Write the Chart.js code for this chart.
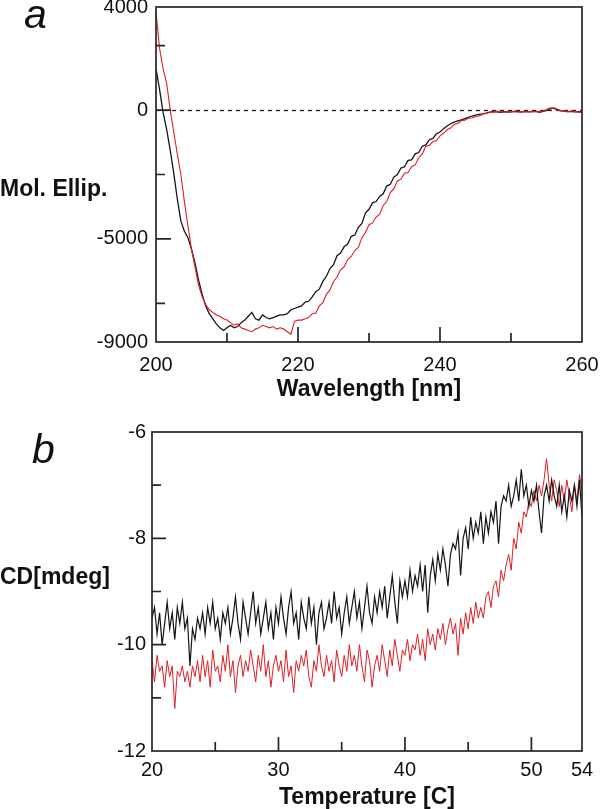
<!DOCTYPE html>
<html><head><meta charset="utf-8">
<script src="https://cdn.jsdelivr.net/npm/chart.js@4.4.0/dist/chart.umd.min.js"></script>
<style>
html,body{margin:0;padding:0;background:#fff;}
#wrap{position:relative;width:600px;height:809px;overflow:hidden;background:#fff;}
canvas{position:absolute;left:0;}
#ca{top:0;width:600px;height:405px;}
#cb{top:405px;width:600px;height:404px;}
</style></head><body>
<div id="wrap"><canvas id="ca" width="600" height="405"></canvas><canvas id="cb" width="600" height="404"></canvas></div>
<script>
// ---------- Panel a: CD spectra (Mol. Ellip. vs wavelength) ----------
const WL_START = 200, WL_STEP = 0.5;            // nm sampling
const A_BLACK = [
 1600, 800, -100, -750, -1550, -2450, -3450, -4300, -4700, -4950,
 -5400, -5950, -6600, -7150, -7600, -7900, -8100, -8300, -8450, -8550,
 -8450, -8350, -8450, -8400, -8250, -8150, -8000, -7850, -8100, -8150,
 -7950, -8050, -8100, -8050, -8000, -7950, -7950, -7900, -7750, -7700,
 -7650, -7600, -7450, -7420, -7250, -7050, -6950, -6650, -6450, -6150,
 -6000, -5650, -5550, -5300, -5200, -4900, -4850, -4550, -4400, -4000,
 -3850, -3600, -3550, -3350, -3250, -2950, -2880, -2600, -2500, -2250,
 -2200, -1950, -1930, -1700, -1650, -1400, -1350, -1150, -1100, -920,
 -850, -720, -620, -530, -470, -420, -380, -330, -280, -230,
 -200, -170, -150, -120, -80, -60, -70, -90, -60, -80,
 -70, -40, -60, -80, -50, -70, -60, -40, -90, -50,
 -20, 50, 80, 30, -20, -50, -60, -40, -70, -60,
 -80];
const A_RED = [
 3800, 2400, 1600, 1050, 0, -850, -1700, -2500, -3550, -4500,
 -5400, -6100, -6800, -7250, -7550, -7750, -7850, -7950, -8000, -8100,
 -8150, -8250, -8350, -8300, -8450, -8500, -8550, -8600, -8500, -8450,
 -8350, -8400, -8450, -8400, -8500, -8450, -8500, -8600, -8700, -8200,
 -8150, -8150, -8100, -8050, -7900, -7880, -7600, -7470, -7150, -6980,
 -6650, -6480, -6200, -6080, -5800, -5680, -5450, -5330, -4950, -4750,
 -4450, -4380, -4150, -4050, -3700, -3550, -3200, -3050, -2750, -2680,
 -2450, -2420, -2200, -2130, -1850, -1700, -1400, -1370, -1220, -1180,
 -1000, -900, -760, -700, -560, -520, -410, -390, -320, -310,
 -250, -230, -160, -120, -90, -80, -40, -60, -90, -50,
 -70, -60, -80, -50, -70, -60, -50, -70, -60, -40,
 20, 90, 60, 0, -30, -40, -60, -70, -50, -80,
 -70];
const A_X_LABELS = [200, 220, 240, 260];
const A_X_MAJOR = [220, 240];
const A_X_MINOR = [210, 230, 250];
const A_Y_LABELS = [-9000, -5000, 0, 4000];
const A_Y_MAJOR = [-5000, 0];
const A_Y_MINOR = [-7500, -2500, 2500];

// ---------- Panel b: thermal melt (CD vs temperature) ----------
const T_START = 20, T_STEP = 0.2;               // degC sampling
const B_BLACK = [
 -9.5, -9.3, -9.8, -9.4, -10.0, -9.6, -9.2, -9.7, -9.4, -9.9,
 -9.3, -9.6, -9.2, -9.7, -9.5, -10.4, -9.7, -9.9, -9.5, -9.7,
 -9.4, -9.8, -9.3, -9.6, -9.2, -9.7, -9.5, -9.9, -9.4, -9.6,
 -9.3, -9.8, -9.5, -9.1, -9.6, -9.9, -9.2, -9.5, -9.8, -9.4,
 -9.0, -9.6, -9.3, -9.8, -9.5, -9.2, -9.7, -9.4, -9.9, -9.3,
 -9.6, -9.1, -9.5, -9.8, -9.3, -9.0, -9.6, -9.4, -9.9, -9.2,
 -9.5, -9.7, -9.1, -9.6, -9.3, -10.0, -9.4, -9.2, -9.7, -9.5,
 -9.2, -9.6, -9.0, -9.5, -9.3, -9.8, -9.4, -9.1, -9.6, -9.3,
 -9.0, -9.5, -9.2, -9.7, -9.3, -8.9, -9.4, -9.6, -9.1, -9.4,
 -9.0, -9.3, -8.9, -9.5, -9.1, -8.7, -9.2, -9.6, -8.8, -9.1,
 -8.8, -9.1, -8.6, -9.0, -8.7, -8.9, -8.5, -9.0, -8.5, -9.4,
 -8.7, -8.4, -8.8, -8.3, -8.6, -8.2, -8.5, -8.9, -8.3, -8.1,
 -8.2, -7.9, -8.7, -8.0, -7.8, -8.2, -7.6, -8.0, -7.7, -7.9,
 -7.5, -8.1, -7.6, -7.9, -7.5, -7.7, -7.3, -8.1, -7.4, -7.2,
 -7.3, -7.0, -7.4, -7.2, -6.9, -7.3, -6.7, -7.2, -7.0, -7.4,
 -7.1, -7.3, -7.0, -7.5, -7.9, -7.2, -7.0, -7.3, -6.9, -7.2,
 -7.4, -7.0, -7.5, -7.2, -7.6, -7.1, -7.3, -7.0, -7.4, -6.9,
 -7.6];
const B_RED = [
 -10.3, -10.7, -10.2, -10.5, -10.4, -10.8, -10.3, -10.6, -10.4, -11.2,
 -10.5, -10.6, -10.4, -10.7, -10.5, -10.8, -10.4, -10.6, -10.3, -10.7,
 -10.2, -10.6, -10.3, -10.8, -10.1, -10.5, -10.4, -10.7, -10.2, -10.5,
 -10.0, -10.6, -10.3, -10.9, -10.4, -10.2, -10.6, -10.3, -10.5, -10.1,
 -10.4, -10.7, -10.2, -10.5, -10.0, -10.6, -10.3, -10.8, -10.4, -10.2,
 -10.5, -10.3, -10.7, -10.1, -10.6, -10.4, -10.9, -10.3, -10.5, -10.2,
 -10.4, -10.1, -10.6, -10.8, -10.3, -10.5, -10.0, -10.4, -10.6, -10.2,
 -10.5, -10.3, -10.7, -10.1, -10.4, -10.6, -10.2, -10.5, -10.0, -10.4,
 -10.2, -10.5, -10.0, -10.4, -10.7, -10.1, -10.3, -10.8, -10.4, -10.2,
 -10.5, -10.0, -10.3, -10.6, -10.1, -10.4, -9.9, -10.2, -10.5, -10.1,
 -10.2, -9.9, -10.3, -10.0, -10.1, -9.8, -10.2, -9.9, -10.3, -9.7,
 -10.0, -9.8, -10.1, -9.7, -9.9, -9.6, -10.0, -9.7, -9.5, -9.8,
 -9.6, -10.2, -9.5, -9.8, -9.4, -9.7, -9.3, -9.6, -9.2, -9.5,
 -9.3, -9.5, -9.1, -9.0, -9.3, -8.9, -8.8, -9.1, -8.6, -8.8,
 -8.5, -8.3, -8.6, -8.0, -8.2, -7.7, -7.9, -7.5, -7.6, -7.3,
 -7.4, -7.1, -7.3, -7.0, -7.2, -6.9, -6.5, -7.0, -7.3, -6.9,
 -7.1, -7.4, -7.0, -7.3, -6.9, -7.2, -7.5, -7.0, -7.3, -6.8,
 -7.1];
const B_X_LABELS = [20, 30, 40, 50, 54];
const B_X_MAJOR = [30, 40, 50];
const B_X_MINOR = [25, 35, 45];
const B_Y_LABELS = [-12, -10, -8, -6];
const B_Y_MAJOR = [-10, -8];
const B_Y_MINOR = [-11, -9, -7];

const FONT = '"Liberation Sans", Arial, Helvetica, sans-serif';
const BLACK = '#151515', RED = '#dd1f26';

function toXY(vals, start, step) { return vals.map((v, i) => ({ x: start + i * step, y: v })); }

const framePlugin = {
  id: 'frame',
  beforeDatasetsDraw(chart, args, o) {
    if (!o.zeroLine) return;
    const { ctx, chartArea: ca, scales } = chart;
    const y = Math.round(scales.y.getPixelForValue(0)) + 0.5;
    ctx.save();
    ctx.strokeStyle = '#222'; ctx.lineWidth = 1.3; ctx.setLineDash([4, 4]);
    ctx.beginPath(); ctx.moveTo(ca.left, y); ctx.lineTo(ca.right, y); ctx.stroke();
    ctx.restore();
  },
  afterDraw(chart, args, o) {
    const { ctx, chartArea: ca, scales } = chart;
    ctx.save();
    ctx.strokeStyle = '#262626'; ctx.lineWidth = 1.7;
    ctx.strokeRect(ca.left, ca.top, ca.right - ca.left, ca.bottom - ca.top);
    ctx.beginPath();
    const xt = (vals, len) => vals.forEach(v => { const x = scales.x.getPixelForValue(v); ctx.moveTo(x, ca.bottom); ctx.lineTo(x, ca.bottom - len); });
    const yt = (vals, len) => vals.forEach(v => { const y = scales.y.getPixelForValue(v); ctx.moveTo(ca.left, y); ctx.lineTo(ca.left + len, y); });
    xt(o.xMajor, o.majorLen); xt(o.xMinor, o.minorLen);
    yt(o.yMajor, o.majorLen); yt(o.yMinor, o.minorLen);
    ctx.stroke();
    ctx.fillStyle = '#111'; ctx.textAlign = 'left'; ctx.textBaseline = 'alphabetic';
    o.texts.forEach(t => { ctx.font = t.font; ctx.fillText(t.text, t.x, t.y); });
    ctx.restore();
  }
};

function makeChart(id, cfg) {
  return new Chart(document.getElementById(id), {
    type: 'line',
    data: { datasets: cfg.datasets },
    plugins: [framePlugin],
    options: {
      responsive: false, animation: false, events: [],
      layout: { padding: cfg.padding },
      plugins: { legend: { display: false }, tooltip: { enabled: false },
        frame: cfg.frame },
      elements: { point: { radius: 0 }, line: { tension: 0 } },
      scales: {
        x: {
          type: 'linear', min: cfg.xMin, max: cfg.xMax,
          afterBuildTicks: s => { s.ticks = cfg.xLabels.map(v => ({ value: v })); },
          afterFit: s => { s.height = cfg.xHeight; s.paddingLeft = 0; s.paddingRight = 0; },
          grid: { display: false, drawTicks: false }, border: { display: false },
          ticks: { padding: cfg.xPad, color: '#111', autoSkip: false, maxRotation: 0,
            callback: v => String(v),
            font: { family: FONT, size: 20, lineHeight: 1 } },
          title: { display: true, text: cfg.xTitle, color: '#111',
            font: { family: FONT, size: 23, weight: 'bold', lineHeight: 1 },
            padding: { top: 0, bottom: cfg.xTitlePad } }
        },
        y: {
          type: 'linear', min: cfg.yMin, max: cfg.yMax,
          afterBuildTicks: s => { s.ticks = cfg.yLabels.map(v => ({ value: v })); },
          afterFit: s => { s.width = cfg.yWidth; s.paddingTop = 0; s.paddingBottom = 0; },
          grid: { display: false, drawTicks: false }, border: { display: false },
          ticks: { padding: cfg.yPad, color: '#111', autoSkip: false,
            callback: v => String(v),
            font: { family: FONT, size: 20, lineHeight: 1 } }
        }
      }
    }
  });
}

makeChart('ca', {
  padding: { left: 0, top: 7, right: 18, bottom: 0 },
  xMin: 200, xMax: 260, yMin: -9000, yMax: 4000,
  xLabels: A_X_LABELS, yLabels: A_Y_LABELS,
  xHeight: 63, yWidth: 156, xPad: 13, yPad: 8, xTitlePad: 4,
  xTitle: 'Wavelength [nm]',
  datasets: [
    { data: toXY(A_RED, WL_START, WL_STEP), borderColor: RED, borderWidth: 1.1 },
    { data: toXY(A_BLACK, WL_START, WL_STEP), borderColor: BLACK, borderWidth: 1.3 }
  ],
  frame: { zeroLine: true, xMajor: A_X_MAJOR, xMinor: A_X_MINOR, yMajor: A_Y_MAJOR, yMinor: A_Y_MINOR,
    majorLen: 15, minorLen: 9,
    texts: [
      { text: 'a', x: 24, y: 28, font: 'italic 41px ' + FONT },
      { text: 'Mol. Ellip.', x: 0, y: 196, font: 'bold 23px ' + FONT }
    ] }
});

makeChart('cb', {
  padding: { left: 0, top: 27, right: 18, bottom: 0 },
  xMin: 20, xMax: 54, yMin: -12, yMax: -6,
  xLabels: B_X_LABELS, yLabels: B_Y_LABELS,
  xHeight: 58, yWidth: 152, xPad: 9, yPad: 6, xTitlePad: 0,
  xTitle: 'Temperature [C]',
  datasets: [
    { data: toXY(B_BLACK, T_START, T_STEP), borderColor: BLACK, borderWidth: 1.2 },
    { data: toXY(B_RED, T_START, T_STEP), borderColor: RED, borderWidth: 1.0 }
  ],
  frame: { zeroLine: false, xMajor: B_X_MAJOR, xMinor: B_X_MINOR, yMajor: B_Y_MAJOR, yMinor: B_Y_MINOR,
    majorLen: 14, minorLen: 9,
    texts: [
      { text: 'b', x: 32, y: 58, font: 'italic 41px ' + FONT },
      { text: 'CD[mdeg]', x: 0, y: 179, font: 'bold 23px ' + FONT }
    ] }
});
</script>
</body></html>
